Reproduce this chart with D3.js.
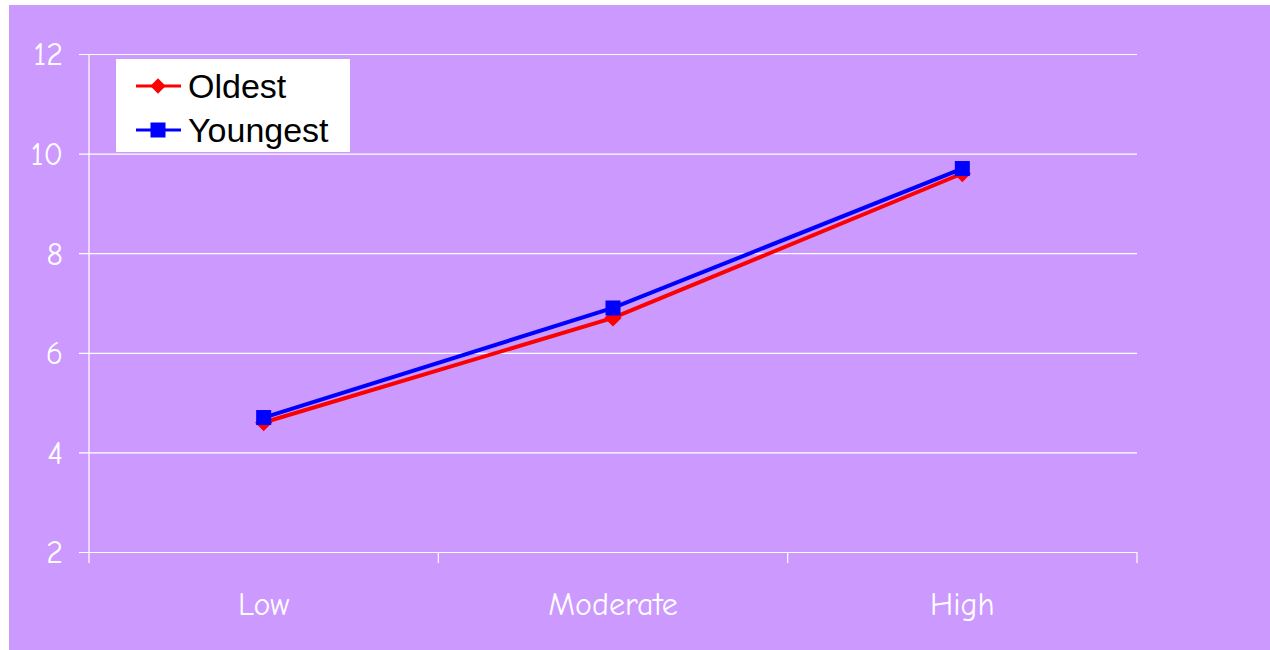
<!DOCTYPE html>
<html>
<head>
<meta charset="utf-8">
<script src="https://cdn.jsdelivr.net/npm/d3@7"></script>
<style>
  html, body { margin: 0; padding: 0; background: #ffffff; }
  svg { display: block; }
</style>
</head>
<body>
<svg id="chart" width="1270" height="650"></svg>
<script>
// Scores by level, for the oldest and youngest groups
const categories = ["Low", "Moderate", "High"];
const oldest = [4.6, 6.7, 9.6];
const youngest = [4.7, 6.9, 9.7];
const yTicks = [2, 4, 6, 8, 10, 12];
const seriesNames = ["Oldest", "Youngest"];

const W = 1270, H = 650;
const plot = { left: 89, right: 1137, top: 54, bottom: 552 };
const labelFont = "'Comic Sans MS', 'Comic Neue', 'DejaVu Sans', sans-serif";

const svg = d3.select("#chart");

// panel background
svg.append("rect")
  .attr("x", 9).attr("y", 5)
  .attr("width", W - 9).attr("height", H - 5)
  .attr("fill", "#CC99FF");

const x = d3.scaleBand().domain(categories).range([plot.left, plot.right]).padding(0);
const y = d3.scaleLinear().domain([2, 12]).range([plot.bottom, plot.top]);

// horizontal gridlines with outward ticks and labels
const yAxis = d3.axisLeft(y).tickValues(yTicks).tickSize(-(plot.right - plot.left)).tickSizeOuter(0);
const gy = svg.append("g").attr("transform", `translate(${plot.left},0)`).call(yAxis);
gy.select(".domain").remove();
gy.selectAll(".tick line")
  .attr("x1", -10)
  .attr("stroke", "#ffffff").attr("stroke-width", 1.2);
gy.selectAll(".tick text")
  .attr("x", -26)
  .attr("dy", "0.34em")
  .attr("fill", "#ffffff")
  .style("font-family", labelFont)
  .style("font-size", "32px");

// vertical axis line
svg.append("line")
  .attr("x1", plot.left).attr("x2", plot.left)
  .attr("y1", plot.top).attr("y2", plot.bottom + 11)
  .attr("stroke", "#ffffff").attr("stroke-width", 1.2);

// category boundary ticks along the bottom
const bounds = categories.map(c => x(c) + x.bandwidth());
svg.append("g").selectAll("line")
  .data(bounds)
  .join("line")
  .attr("x1", d => d).attr("x2", d => d)
  .attr("y1", plot.bottom).attr("y2", plot.bottom + 11)
  .attr("stroke", "#ffffff").attr("stroke-width", 1.2);

// category labels
svg.append("g").selectAll("text")
  .data(categories)
  .join("text")
  .attr("x", d => x(d) + x.bandwidth() / 2)
  .attr("y", 615)
  .attr("text-anchor", "middle")
  .attr("fill", "#ffffff")
  .style("font-family", labelFont)
  .style("font-size", "32px")
  .text(d => d);

const cx = d => x(d) + x.bandwidth() / 2;
const line = d3.line().x((d, i) => cx(categories[i])).y(d => y(d));

// Oldest series: red line with diamond markers
svg.append("path").datum(oldest)
  .attr("d", line).attr("fill", "none")
  .attr("stroke", "#ff0000").attr("stroke-width", 4);
const diamond = d3.symbol().type(d3.symbolDiamond2 || d3.symbolDiamond).size(190);
svg.append("g").selectAll("path")
  .data(oldest)
  .join("path")
  .attr("d", diamond)
  .attr("transform", (d, i) => `translate(${cx(categories[i])},${y(d)})`)
  .attr("fill", "#ff0000");

// Youngest series: blue line with square markers
svg.append("path").datum(youngest)
  .attr("d", line).attr("fill", "none")
  .attr("stroke", "#0000ff").attr("stroke-width", 4);
svg.append("g").selectAll("rect")
  .data(youngest)
  .join("rect")
  .attr("x", (d, i) => cx(categories[i]) - 7.5)
  .attr("y", d => y(d) - 7.5)
  .attr("width", 15).attr("height", 15)
  .attr("fill", "#0000ff");

// legend
const lg = svg.append("g").attr("transform", "translate(116,59)");
lg.append("rect").attr("width", 234).attr("height", 93).attr("fill", "#ffffff");
const colors = ["#ff0000", "#0000ff"];
seriesNames.forEach((name, i) => {
  const cy = 27 + i * 44;
  lg.append("line")
    .attr("x1", 20).attr("x2", 65)
    .attr("y1", cy).attr("y2", cy)
    .attr("stroke", colors[i]).attr("stroke-width", 3);
  if (i === 0) {
    lg.append("path")
      .attr("d", d3.symbol().type(d3.symbolDiamond2 || d3.symbolDiamond).size(150))
      .attr("transform", `translate(42,${cy})`)
      .attr("fill", colors[i]);
  } else {
    lg.append("rect")
      .attr("x", 42 - 7.5).attr("y", cy - 7.5)
      .attr("width", 15).attr("height", 15)
      .attr("fill", colors[i]);
  }
  lg.append("text")
    .attr("x", 72).attr("y", cy + 12)
    .attr("fill", "#000000")
    .style("font-family", "'Liberation Sans', Arial, sans-serif")
    .style("font-size", "34px")
    .text(name);
});
</script>
</body>
</html>
